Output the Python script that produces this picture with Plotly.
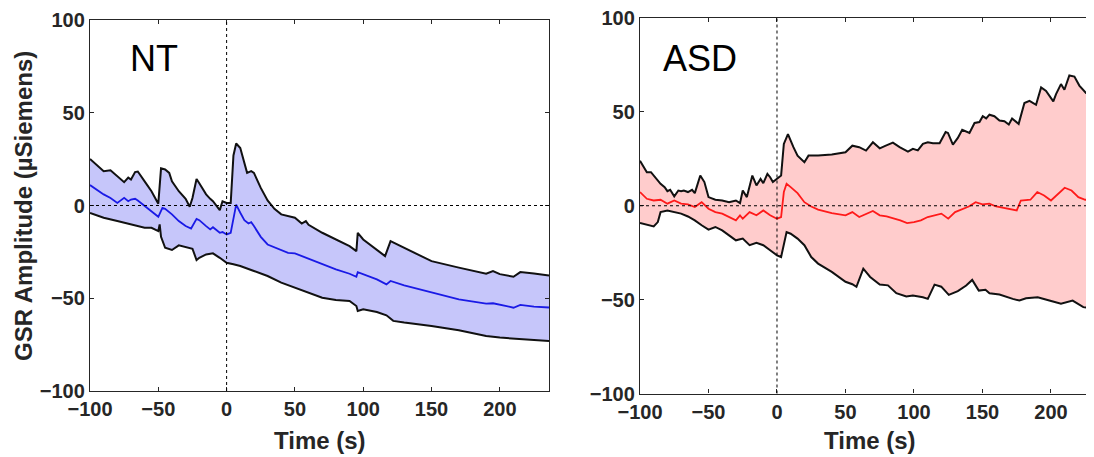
import plotly.graph_objects as go

# ---------------- NT data ----------------
nt_up_t = [-100, -90, -85, -80, -75, -72, -70, -67, -65, -60, -55, -50, -48, -45, -42, -40, -35, -30, -27,
           -25, -22, -20, -15, -12, -10, -5, -3, 0, 3, 5, 7, 10, 13, 15, 18, 20, 25, 30, 35, 40, 50, 55,
           58, 60, 70, 80, 90, 95, 96, 100, 110, 116, 120, 125, 140, 150, 170, 180, 190, 195, 200, 210,
           215, 225, 236]
nt_up = [25.1, 18.5, 19, 15.8, 12.6, 15, 14, 18, 18.3, 13, 7.7, 1, 20, 19.4, 17.6, 13, 7.7, 3.6, -0.7,
         4, 14.3, 12, 6, 3.6, 2.3, -2.5, 2.3, 1.4, 1.4, 27, 33.4, 31, 23, 17.6, 18.5, 17.6, 9.5, 2.7, -1.8,
         -4.8, -6.6, -9.7, -8.4, -10.4, -14.7, -18.3, -21.9, -24.6, -14.7, -18.3, -24, -27.3, -19.2, -21,
         -26.4, -30, -33.5, -35.3, -36.8, -35.3, -37, -38.4, -35.9, -36.6, -37.7]

nt_mean_t = [-100, -95, -90, -85, -80, -75, -72, -70, -67, -65, -60, -55, -50, -47, -45, -40, -35, -30, -26,
             -22, -20, -15, -12, -10, -5, -3, 0, 3, 5, 7, 10, 13, 16, 18, 20, 25, 30, 40, 45, 50, 55, 60,
             70, 80, 90, 95, 96, 100, 110, 117, 120, 130, 150, 170, 190, 195, 205, 210, 215, 225, 236]
nt_mean = [11, 8.3, 6, 4, 1.4, 4.1, 2.3, 3.2, 3.6, 2.7, -0.4, -3, -6.1, -1.3, -1.8, -4.8, -8.4, -11.1, -12.4,
           -7.2, -7.9, -11.1, -12.9, -11.7, -14.7, -14.3, -15.6, -14.7, -7.5, 0.5, -3.9, -7.9, -9.7, -9,
           -11.1, -16.9, -21, -24, -25.5, -25.8, -27.3, -28.7, -31.7, -34.4, -36.8, -38.4, -35.9, -37.1,
           -39.8, -42.5, -40.7, -43, -47, -50.6, -52.9, -52.7, -54.2, -55.1, -53.6, -54.5, -55]

nt_lo_t = [-100, -90, -80, -70, -60, -55, -50, -49, -48, -45, -40, -35, -30, -25, -22, -20, -15, -10, -5,
           0, 5, 10, 20, 30, 40, 50, 60, 70, 80, 90, 95, 96, 100, 110, 117, 122, 130, 150, 170, 190, 200,
           220, 236]
nt_lo = [-4, -6.6, -8.4, -10.2, -12, -12, -13.8, -10.2, -16.9, -22.8, -24, -21.5, -22.2, -23.3, -29.4,
         -28.2, -26.4, -25.8, -28.2, -30.9, -31.7, -32.6, -35.3, -38, -41.6, -44.3, -47, -49.7, -50.9,
         -51.5, -54.2, -56.9, -56, -57.4, -59.2, -62.2, -63.1, -64.9, -67.3, -70.3, -71.2, -72.1, -73]

# ---------------- ASD data ----------------
asd_up_t = [-100, -97, -95, -92, -88, -85, -82, -80, -78, -75, -72, -70, -68, -65, -62, -60, -56, -53, -50,
            -45, -40, -35, -30, -27, -25, -22, -18, -15, -12, -10, -7, -5, -3, 0, 3, 5, 8, 12, 15, 20, 23,
            30, 40, 50, 55, 60, 65, 70, 75, 78.6, 84.6, 89.5, 95.6, 99.2, 102.8, 106.5, 110.1, 113.8,
            118.7, 123.1, 124.8, 128.4, 132, 135.2, 140.5, 144.2, 147.8, 150.2, 152.7, 155.1, 158.7,
            162.4, 166, 169.2, 171.6, 176.4, 180.6, 184.3, 189.1, 192.8, 196.4, 201.7, 203.7, 207.3,
            209.8, 213.4, 217.1, 220.7, 225.6, 231.4]
asd_up = [24, 20.5, 17.9, 17.9, 14.3, 11.7, 9.9, 7.8, 8.5, 5, 8.1, 7.8, 8.1, 7.3, 8.5, 6.7, 16.1, 12.6, 4.6,
          3.2, 2.8, 1.9, 2.8, 1.4, 8.1, 4.6, 16.1, 10.8, 14.3, 12, 17, 15.2, 12.6, 14.3, 16.1, 32.9, 38.2,
          31.2, 26.7, 23.2, 26.7, 26.7, 27.3, 28.5, 32, 31.2, 29.4, 33.8, 30.6, 31.8, 33.6, 31.2, 28.8,
          30.3, 29.5, 33, 33.8, 33.3, 33.3, 39.3, 38.8, 32.6, 36.1, 40.5, 38.8, 44.1, 44.6, 47.7, 46.5,
          48.5, 47.7, 45.4, 45, 43.3, 46.5, 43.6, 54.7, 55.9, 53.8, 63, 61.2, 55.6, 59.5, 64.8, 61.8,
          69.4, 68.8, 64, 60, 59.1]

asd_mean_t = [-100, -95, -90, -85, -80, -75, -70, -65, -60, -55, -50, -45, -40, -35, -30, -27, -25, -20, -15,
              -10, -5, 0, 3, 5, 7, 10, 15, 20, 25, 30, 40, 50, 55, 60, 65, 70, 75, 80, 90, 95, 100, 105,
              110, 115, 120, 125, 130, 140, 145, 150, 155, 160, 165, 170, 175, 178, 185, 190, 195, 200,
              205, 210, 215, 220, 225, 232]
asd_mean = [7.3, 3.7, 2.8, 3.2, 1.1, 2.8, 1.1, 0.7, -0.7, 1.9, -1.6, -3.4, -4.2, -6, -7.8, -5.1, -6.9, -3.4,
            -5.1, -2.5, -5.1, -6.9, -6, 7.3, 11.7, 9.9, 6.7, 1.9, -0.4, -2.1, -3.9, -5.1, -3.4, -6, -4.2,
            -2.8, -5.1, -5.7, -7.8, -9.2, -8.7, -7.8, -6, -5.1, -4.2, -6.9, -3.4, -0.4, 1.9, 0.7, 1.1, -0.4,
            -1.1, -2.1, -2.5, 2.8, 3.2, 7.3, 5.5, 2.8, 6.4, 9.6, 8.1, 4.6, 3.2, 3.2]

asd_lo_t = [-100, -95, -90, -87, -85, -80, -75, -70, -65, -60, -55, -50, -45, -40, -35, -30, -25, -20, -15,
            -10, -5, 0, 3, 5, 7, 10, 15, 20, 25, 30, 40, 50, 55, 58, 60, 63, 68, 75, 81, 87.1, 94.4, 99.2,
            106.5, 110.1, 115, 119.9, 125.4, 132, 138.1, 142.5, 147.3, 152.2, 155.1, 162.4, 172.1, 177,
            181.8, 190.3, 198.8, 207.3, 215.8, 223.6, 228.5, 231.4]
asd_lo = [-9.2, -9.9, -11, -8.7, -3.4, -2.5, -3.4, -4.2, -5.7, -7.8, -10.4, -12.7, -11.3, -13.1, -15.8,
          -18.4, -17.5, -21, -19.8, -21, -23.7, -26.4, -27.3, -20.2, -14, -14.9, -17.5, -21, -27.3, -30.8,
          -35.2, -40.5, -41.8, -43.2, -39.3, -33.5, -37.9, -42, -42.4, -46.6, -48.3, -47.8, -48.7, -49.6,
          -42, -43.1, -47.5, -45.5, -42.5, -39.5, -45.2, -44.8, -46.6, -47.3, -49.6, -50.5, -49.3, -48.7,
          -50.5, -52.2, -50.5, -54, -54.5, -53.1]

x_ticks = [-100, -50, 0, 50, 100, 150, 200]
y_ticks = [-100, -50, 0, 50, 100]
panel_labels = ["NT", "ASD"]
x_title = "Time (s)"
y_title = "GSR Amplitude (µSiemens)"

# the page has an 8px body margin; figure sized so it fills the 1094x457 window
OFF = 8
W, H = 1094 - OFF, 457 - OFF
AX = "#262626"
FONT = "Liberation Sans"


def px(x):
    return (x - OFF) / W


def py(y):
    return 1 - (y - OFF) / H


fig = go.Figure()

panels = [
    dict(up_t=nt_up_t, up=nt_up, m_t=nt_mean_t, m=nt_mean, lo_t=nt_lo_t, lo=nt_lo,
         fill="rgba(198,198,250,1)", mean_col="#1a1ae6", xa="x", ya="y"),
    dict(up_t=asd_up_t, up=asd_up, m_t=asd_mean_t, m=asd_mean, lo_t=asd_lo_t, lo=asd_lo,
         fill="rgba(255,204,204,1)", mean_col="#ff1a1a", xa="x2", ya="y2"),
]

for p in panels:
    fig.add_trace(go.Scatter(x=p["up_t"] + p["lo_t"][::-1], y=p["up"] + p["lo"][::-1],
                             fill="toself", fillcolor=p["fill"], line=dict(width=0),
                             mode="lines", xaxis=p["xa"], yaxis=p["ya"], hoverinfo="skip"))
    fig.add_trace(go.Scatter(x=p["up_t"], y=p["up"], mode="lines",
                             line=dict(color="#111111", width=2), xaxis=p["xa"], yaxis=p["ya"]))
    fig.add_trace(go.Scatter(x=p["lo_t"], y=p["lo"], mode="lines",
                             line=dict(color="#111111", width=2), xaxis=p["xa"], yaxis=p["ya"]))
    fig.add_trace(go.Scatter(x=p["m_t"], y=p["m"], mode="lines",
                             line=dict(color=p["mean_col"], width=1.8), xaxis=p["xa"], yaxis=p["ya"]))

# dotted reference lines at zero
for xa, ya in [("x", "y"), ("x2", "y2")]:
    fig.add_shape(type="line", xref=f"{xa} domain", yref=ya, x0=0, x1=1, y0=0, y1=0,
                  line=dict(color="black", width=1, dash="dot"), layer="above")
    fig.add_shape(type="line", xref=xa, yref=f"{ya} domain", x0=0, x1=0, y0=0, y1=1,
                  line=dict(color="black", width=1, dash="dot"), layer="above")

tickfont = dict(family=FONT, size=20, color=AX, weight="bold")
common_x = dict(tickvals=x_ticks, ticks="inside", ticklen=4, tickcolor=AX, tickwidth=1,
                showline=True, linecolor=AX, linewidth=1.3, showgrid=False, zeroline=False,
                tickfont=tickfont, automargin=False, ticklabeloverflow="allow")
common_y = dict(tickvals=y_ticks, ticks="inside", ticklen=4, tickcolor=AX, tickwidth=1,
                showline=True, linecolor=AX, linewidth=1.3, showgrid=False, zeroline=False,
                tickfont=tickfont, range=[-100, 100], automargin=False, ticklabeloverflow="allow")

fig.update_layout(
    template="none",
    width=W, height=H, margin=dict(l=0, r=0, t=0, b=0, autoexpand=False),
    paper_bgcolor="white", plot_bgcolor="white", showlegend=False,
    xaxis=dict(common_x, domain=[px(90), px(549)], range=[-100, 236], mirror="ticks",
               anchor="y"),
    yaxis=dict(common_y, domain=[py(391), py(20)], mirror="ticks", anchor="x"),
    xaxis2=dict(common_x, domain=[px(640), 1.0], range=[-100, 231.4], mirror="ticks",
                anchor="y2"),
    yaxis2=dict(common_y, domain=[py(393.5), py(18)], anchor="x2"),
)

ann = []
ann.append(dict(text=panel_labels[0], x=px(128), y=py(59), xref="paper", yref="paper",
                xanchor="left", yanchor="middle", showarrow=False,
                font=dict(family=FONT, size=36, color="black")))
ann.append(dict(text=panel_labels[1], x=px(661), y=py(59), xref="paper", yref="paper",
                xanchor="left", yanchor="middle", showarrow=False,
                font=dict(family=FONT, size=36, color="black")))
for cx in [319.5, 870]:
    ann.append(dict(text=x_title, x=px(cx), y=py(440), xref="paper", yref="paper",
                    xanchor="center", yanchor="middle", showarrow=False,
                    font=dict(family=FONT, size=24, color=AX, weight="bold")))
ann.append(dict(text=y_title, x=px(24), y=py(206), xref="paper", yref="paper",
                xanchor="center", yanchor="middle", showarrow=False, textangle=-90,
                font=dict(family=FONT, size=24, color=AX, weight="bold")))
fig.update_layout(annotations=ann)

fig.write_html("out.html")
